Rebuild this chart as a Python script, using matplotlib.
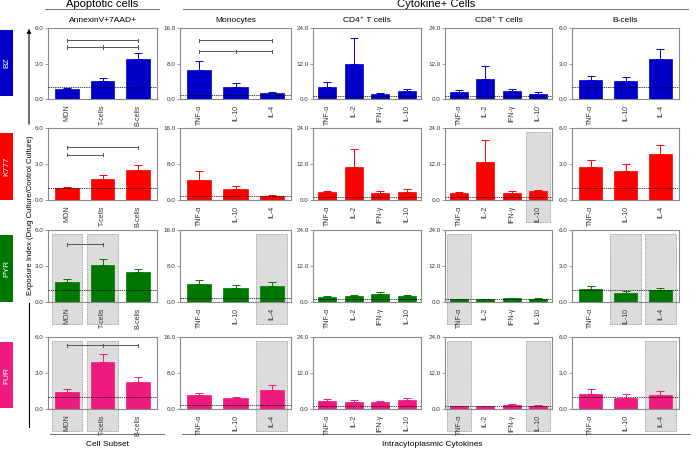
import matplotlib
matplotlib.use("Agg")
import matplotlib.pyplot as plt
from matplotlib.patches import Rectangle, FancyArrowPatch
from matplotlib.lines import Line2D
import matplotlib.transforms as mtransforms

plt.rcParams['font.family'] = ['Liberation Sans', 'DejaVu Sans']

W, H = 696, 449

# categories for each column of panels
cell_subsets = ['MON', 'T-cells', 'B-cells']
mono_cyt = ['TNF-α', 'IL-10', 'IL-4']
cd4_cyt = ['TNF-α', 'IL-2', 'IFN-γ', 'IL-10']
cd8_cyt = ['TNF-α', 'IL-2', 'IFN-γ', 'IL-10']
bcell_cyt = ['TNF-α', 'IL-10', 'IL-4']
col_cats = [cell_subsets, mono_cyt, cd4_cyt, cd8_cyt, bcell_cyt]
col_titles = ['AnnexinV+7AAD+', 'Monocytes', 'CD4⁺ T cells', 'CD8⁺ T cells', 'B-cells']
col_ymax = [6, 16, 24, 24, 6]

drugs = ['BZ', 'K777', 'PYR', 'FUR']
drug_colors = ['#0000c8', '#ff0000', '#007800', '#ee1a7e']

# mean exposure index per column (apoptosis, mono, CD4, CD8, B-cells)
bz_means = [[0.85, 1.55, 3.35], [6.5, 2.75, 1.3], [3.95, 11.8, 1.6, 2.6],
            [2.4, 6.9, 2.6, 1.8], [1.58, 1.5, 3.35]]
bz_errs = [[0.12, 0.22, 0.55], [2.0, 0.75, 0.3], [1.65, 8.7, 0.5, 0.7],
           [0.6, 4.3, 0.8, 0.5], [0.4, 0.32, 0.85]]
k777_means = [[0.97, 1.72, 2.5], [4.4, 2.45, 0.9], [2.55, 10.9, 2.35, 2.8],
              [2.35, 12.8, 2.2, 2.9], [2.72, 2.44, 3.8]]
k777_errs = [[0.09, 0.36, 0.4], [2.1, 0.75, 0.3], [0.45, 6.0, 0.55, 0.8],
             [0.3, 7.1, 0.7, 0.3], [0.64, 0.53, 0.78]]
pyr_means = [[1.64, 3.08, 2.47], [4.07, 3.04, 3.63], [1.77, 2.0, 2.78, 2.0],
             [0.9, 0.9, 1.2, 1.0], [1.06, 0.75, 1.0]]
pyr_errs = [[0.25, 0.48, 0.31], [0.9, 0.66, 0.8], [0.23, 0.33, 0.55, 0.2],
            [0.1, 0.15, 0.3, 0.3], [0.24, 0.17, 0.19]]
fur_means = [[1.39, 3.94, 2.28], [3.04, 2.37, 4.3], [2.78, 2.33, 2.33, 3.0],
             [1.0, 1.0, 1.2, 1.0], [1.25, 0.94, 1.17]]
fur_errs = [[0.25, 0.62, 0.41], [0.46, 0.3, 0.96], [0.42, 0.57, 0.45, 0.77],
            [0.1, 0.1, 0.35, 0.2], [0.39, 0.28, 0.3]]
all_means = [bz_means, k777_means, pyr_means, fur_means]
all_errs = [bz_errs, k777_errs, pyr_errs, fur_errs]

# shaded (gray) categories: (row, col) -> indices
shaded = {(1, 3): [3],
          (2, 0): [0, 1], (2, 1): [2], (2, 3): [0], (2, 4): [1, 2],
          (3, 0): [0, 1], (3, 1): [2], (3, 3): [0, 3], (3, 4): [2]}

# significance brackets: (row, col) -> list of (x1, x2, y)
brackets = {(0, 0): [(0, 2, 4.95), (0, 1, 4.4), (1, 2, 4.4)],
            (0, 1): [(0, 2, 13.2), (0, 1, 10.75), (1, 2, 10.75)],
            (1, 0): [(0, 2, 4.39), (0, 1, 3.78)],
            (2, 0): [(0, 1, 4.8)],
            (3, 0): [(0, 1, 5.3), (1, 2, 5.3)]}

row_px = [(28, 99), (128, 200), (230, 302), (337, 409)]
col_px = [(48, 157), (180, 291), (313, 421), (445, 552), (572, 679)]
label_px = [(30, 96), (133, 200), (235, 302), (342, 408)]

fig = plt.figure(figsize=(W / 100, H / 100), dpi=100)


def fx(x):
    return x / W


def fy(y):
    return 1 - y / H


for r in range(4):
    y0, y1 = row_px[r]
    for c in range(5):
        x0, x1 = col_px[c]
        ax = fig.add_axes([fx(x0), fy(y1), fx(x1 - x0), (y1 - y0) / H])
        cats = col_cats[c]
        n = len(cats)
        xs = list(range(n))
        ymax = col_ymax[c]
        trans = mtransforms.blended_transform_factory(ax.transData, ax.transAxes)
        for i in shaded.get((r, c), []):
            bw = 0.86 if n == 3 else 0.92
            ax.add_patch(Rectangle((i - bw / 2, -0.31), bw, 1.26, transform=trans,
                                   facecolor='#dcdcdc', edgecolor='#888888',
                                   linestyle=(0, (1, 1)), linewidth=0.6,
                                   clip_on=False, zorder=0))
        ax.bar(xs, all_means[r][c], width=0.67, color=drug_colors[r],
               edgecolor=drug_colors[r], linewidth=0.5, zorder=2)
        ax.errorbar(xs, all_means[r][c], yerr=[[0] * n, all_errs[r][c]],
                    fmt='none', ecolor=drug_colors[r], elinewidth=0.7,
                    capsize=3, capthick=0.7, zorder=3)
        ax.axhline(1.0, color='black', linestyle=(0, (2, 1.2)), linewidth=0.5, zorder=4)
        for (a, b, yb) in brackets.get((r, c), []):
            d = ymax * 0.025
            ax.plot([a, b], [yb, yb], color='#555555', lw=0.7, zorder=5)
            ax.plot([a, a], [yb - d, yb + d], color='#555555', lw=0.7, zorder=5)
            ax.plot([b, b], [yb - d, yb + d], color='#555555', lw=0.7, zorder=5)
        ax.set_xlim(-0.53, n - 0.47)
        ax.set_ylim(0, ymax)
        ax.set_yticks([0, ymax / 2, ymax])
        ax.set_yticklabels(['%.1f' % v for v in [0, ymax / 2, ymax]])
        ax.set_xticks(xs)
        ax.set_xticklabels(cats, rotation=90)
        ax.tick_params(axis='y', labelsize=4.5, length=2, width=0.5,
                       color='#777777', pad=1, labelcolor='#333333')
        ax.tick_params(axis='x', labelsize=5, length=0, pad=4, labelcolor='#333333')
        for s in ax.spines.values():
            s.set_color('#8a8a8a')
            s.set_linewidth(0.8)
        if r == 0:
            ax.set_title(col_titles[c], fontsize=6, pad=4)

# drug label boxes
for r in range(4):
    y0, y1 = label_px[r]
    fig.add_artist(Rectangle((0, fy(y1)), fx(13), (y1 - y0) / H,
                             transform=fig.transFigure, facecolor=drug_colors[r],
                             edgecolor='none'))
    fig.text(fx(6.5), fy((y0 + y1) / 2), drugs[r], rotation=90, color='white',
             fontsize=6, ha='center', va='center')

# y axis label with arrow
fig.text(fx(31), fy(215), 'Exposure Index (Drug Culture/Control Culture)',
         rotation=90, fontsize=5.6, ha='center', va='center')
fig.add_artist(FancyArrowPatch((fx(29), fy(127)), (fx(29), fy(26)),
                               transform=fig.transFigure, arrowstyle='-|>',
                               mutation_scale=6, color='black', lw=0.8))
fig.add_artist(Line2D([fx(29), fx(29)], [fy(303), fy(427)], color='black', lw=0.8))

# group headers
fig.text(fx(102), fy(4), 'Apoptotic cells', fontsize=8, ha='center', va='center')
fig.add_artist(Line2D([fx(45), fx(159)], [fy(9), fy(9)], color='#555555', lw=0.6))
fig.text(fx(436), fy(4), 'Cytokine+ Cells', fontsize=8, ha='center', va='center')
fig.add_artist(Line2D([fx(183), fx(688)], [fy(9), fy(9)], color='#555555', lw=0.6))

fig.text(fx(107), fy(444), 'Cell Subset', fontsize=6, ha='center', va='center')
fig.add_artist(Line2D([fx(50), fx(164)], [fy(434), fy(434)], color='#555555', lw=0.6))
fig.text(fx(432), fy(444), 'Intracytoplasmic Cytokines', fontsize=6, ha='center', va='center')
fig.add_artist(Line2D([fx(182), fx(690)], [fy(434), fy(434)], color='#555555', lw=0.6))

fig.savefig('out.png', dpi=100)
